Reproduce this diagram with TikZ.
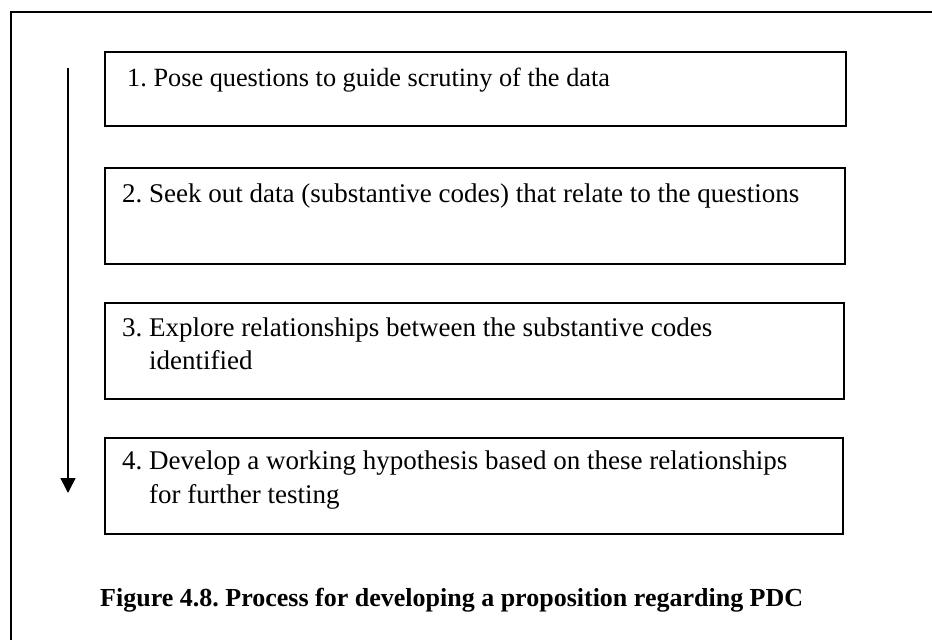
\documentclass[tikz,border=0pt]{standalone}
\usepackage{fontspec}
\setmainfont{Liberation Serif}
\usetikzlibrary{arrows.meta}
\frenchspacing
\tikzset{
  stepbox/.style={draw, line width=1.8pt, inner sep=0pt, minimum height=96pt, anchor=north west},
  steptext/.style={anchor=base west, inner sep=0pt, font=\fontsize{27}{34}\selectfont},
  frame/.style={line width=1.8pt},
  flow/.style={line width=1.6pt, -{Triangle[width=15pt,length=15pt]}},
  caption/.style={anchor=base west, inner sep=0pt, font=\fontsize{26}{30}\selectfont\bfseries}
}
\begin{document}
\begin{tikzpicture}[x=1pt, y=-1pt]
  \useasboundingbox (0,0) rectangle (932,640);
  % outer frame: top rule and left rule only
  \coordinate (fb) at (11,640);
  \coordinate (fc) at (11,12);
  \coordinate (fr) at (932,12);
  \draw[frame] (fb) -- (fc) -- (fr);

  % step boxes
  \node[stepbox, minimum width=741pt, minimum height=74pt] (b1) at (104,51) {};
  \node[stepbox, minimum width=740pt] (b2) at (104,167) {};
  \node[stepbox, minimum width=739pt] (b3) at (104,302) {};
  \node[stepbox, minimum width=738pt] (b4) at (104,437) {};

  % step texts
  \node[steptext, font=\fontsize{26.3}{34}\selectfont] (t1) at (127,86) {1. Pose questions to guide scrutiny of the data};
  \node[steptext] (t2) at (122,202) {2. Seek out data (substantive codes) that relate to the questions};
  \node[steptext] (t3) at (122,336) {3. Explore relationships between the substantive codes};
  \node[steptext] (t3b) at (149,369) {identified};
  \node[steptext] (t4) at (122,469) {4. Develop a working hypothesis based on these relationships};
  \node[steptext] (t4b) at (149,503) {for further testing};

  % progression arrow
  \coordinate (as) at (68,68);
  \coordinate (ae) at (68,493);
  \draw[flow] (as) -- (ae);

  % caption
  \node[caption] (cap) at (100,606) {Figure 4.8. Process for developing a proposition regarding PDC};
\end{tikzpicture}
\end{document}
